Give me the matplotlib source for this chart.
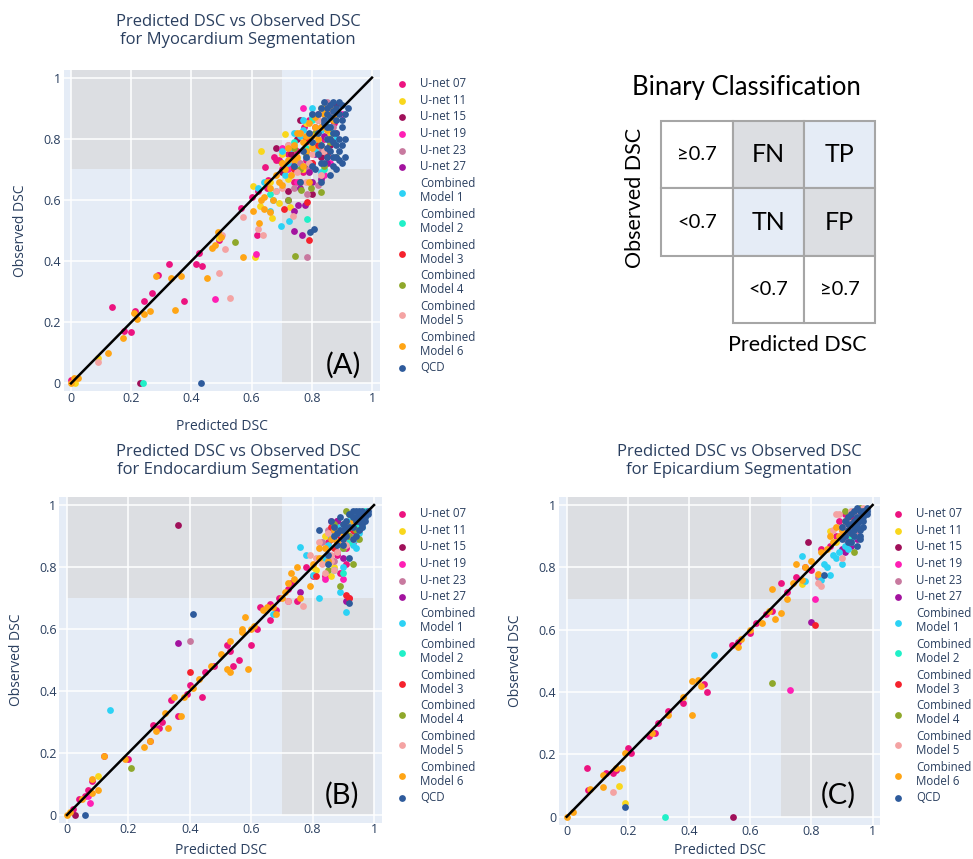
import matplotlib
matplotlib.use("Agg")
import matplotlib.pyplot as plt
from matplotlib.patches import Rectangle

# ---- series names / colours ----
series_names = ["U-net 07", "U-net 11", "U-net 15", "U-net 19", "U-net 23", "U-net 27",
                "Combined\nModel 1", "Combined\nModel 2", "Combined\nModel 3",
                "Combined\nModel 4", "Combined\nModel 5", "Combined\nModel 6", "QCD"]
series_colors = ["#ec1380", "#f9d71c", "#a0105a", "#ff1fb4", "#c8799f", "#a3139f",
                 "#2cd2f5", "#20f0c8", "#f5222d", "#8fa82b", "#f4a3a3", "#ffa515", "#2e5b9c"]

# ---- (A) Myocardium ----
myo_u07_x = [0.0, 0.137, 0.176, 0.198, 0.212, 0.242, 0.27, 0.29, 0.325, 0.375, 0.416, 0.425, 0.435, 0.491, 0.565, 0.618, 0.6, 0.62, 0.644, 0.655, 0.674, 0.68, 0.7, 0.72, 0.735, 0.75, 0.773, 0.78, 0.8, 0.82, 0.84, 0.86, 0.875, 0.74, 0.77, 0.81, 0.85, 0.88, 0.65, 0.69, 0.79, 0.83, 0.87, 0.78]
myo_u07_y = [0.01, 0.249, 0.171, 0.167, 0.237, 0.269, 0.294, 0.354, 0.389, 0.269, 0.389, 0.425, 0.385, 0.469, 0.573, 0.484, 0.61, 0.63, 0.709, 0.665, 0.741, 0.73, 0.7, 0.75, 0.71, 0.76, 0.839, 0.79, 0.72, 0.88, 0.8, 0.9, 0.85, 0.66, 0.69, 0.77, 0.74, 0.82, 0.64, 0.73, 0.86, 0.84, 0.79, 0.73]
myo_u11_x = [0.012, 0.09, 0.493, 0.61, 0.627, 0.604, 0.632, 0.668, 0.69, 0.71, 0.729, 0.66, 0.7, 0.75, 0.78, 0.8, 0.83, 0.86, 0.72, 0.77, 0.82]
myo_u11_y = [0.0, 0.082, 0.474, 0.412, 0.581, 0.647, 0.761, 0.542, 0.589, 0.815, 0.576, 0.66, 0.75, 0.73, 0.85, 0.78, 0.9, 0.82, 0.67, 0.7, 0.76]
myo_u15_x = [0.229, 0.68, 0.7, 0.73, 0.76, 0.79, 0.81, 0.84, 0.86, 0.88, 0.72, 0.8, 0.83, 0.75]
myo_u15_y = [0.0, 0.77, 0.69, 0.75, 0.86, 0.71, 0.82, 0.88, 0.78, 0.91, 0.63, 0.62, 0.74, 0.8]
myo_u19_x = [0.48, 0.614, 0.72, 0.75, 0.78, 0.81, 0.84, 0.87, 0.7, 0.86, 0.9, 0.77]
myo_u19_y = [0.276, 0.422, 0.7, 0.66, 0.76, 0.84, 0.68, 0.89, 0.77, 0.72, 0.88, 0.9]
myo_u23_x = [0.784, 0.784, 0.72, 0.76, 0.8, 0.83, 0.85, 0.87, 0.82, 0.74, 0.88, 0.79]
myo_u23_y = [0.414, 0.62, 0.78, 0.72, 0.88, 0.76, 0.92, 0.84, 0.65, 0.64, 0.8, 0.7]
myo_u27_x = [0.74, 0.768, 0.74, 0.754, 0.776, 0.72, 0.79, 0.81, 0.83, 0.85, 0.87, 0.8, 0.76, 0.84]
myo_u27_y = [0.498, 0.485, 0.565, 0.585, 0.585, 0.6, 0.69, 0.75, 0.67, 0.72, 0.86, 0.66, 0.64, 0.81]
myo_cm1_x = [0.66, 0.698, 0.725, 0.62, 0.64, 0.67, 0.7, 0.73, 0.76, 0.78, 0.8, 0.82, 0.84, 0.86, 0.75, 0.79, 0.83, 0.72, 0.81, 0.77, 0.88, 0.68, 0.71, 0.74, 0.8, 0.83, 0.85, 0.77, 0.79]
myo_cm1_y = [0.565, 0.516, 0.532, 0.64, 0.66, 0.6, 0.76, 0.77, 0.81, 0.74, 0.87, 0.79, 0.9, 0.84, 0.7, 0.8, 0.69, 0.72, 0.76, 0.83, 0.8, 0.63, 0.68, 0.82, 0.9, 0.83, 0.86, 0.86, 0.72]
myo_cm2_x = [0.24, 0.784, 0.66, 0.74, 0.8, 0.84, 0.87, 0.78]
myo_cm2_y = [0.0, 0.538, 0.62, 0.79, 0.86, 0.7, 0.82, 0.77]
myo_cm3_x = [0.791, 0.709, 0.784, 0.76, 0.8, 0.82, 0.85, 0.78, 0.74, 0.87]
myo_cm3_y = [0.469, 0.569, 0.594, 0.66, 0.72, 0.78, 0.75, 0.8, 0.7, 0.86]
myo_cm4_x = [0.546, 0.743, 0.72, 0.765, 0.798, 0.829, 0.7, 0.78, 0.81, 0.84, 0.86, 0.74, 0.88, 0.76, 0.82, 0.85]
myo_cm4_y = [0.461, 0.418, 0.6, 0.632, 0.638, 0.625, 0.72, 0.75, 0.82, 0.71, 0.79, 0.77, 0.74, 0.7, 0.86, 0.84]
myo_cm5_x = [0.09, 0.493, 0.5, 0.51, 0.529, 0.571, 0.622, 0.638, 0.737, 0.7, 0.75, 0.78, 0.8, 0.82, 0.85, 0.72, 0.76, 0.83, 0.68, 0.87, 0.79, 0.84, 0.86]
myo_cm5_y = [0.071, 0.362, 0.485, 0.44, 0.28, 0.544, 0.504, 0.484, 0.547, 0.64, 0.69, 0.66, 0.75, 0.86, 0.8, 0.78, 0.82, 0.68, 0.63, 0.88, 0.72, 0.76, 0.9]
myo_cm6_x = [0.0, 0.01, 0.023, 0.124, 0.174, 0.209, 0.218, 0.242, 0.262, 0.281, 0.331, 0.345, 0.364, 0.452, 0.469, 0.48, 0.488, 0.497, 0.572, 0.604, 0.624, 0.63, 0.64, 0.65, 0.66, 0.67, 0.68, 0.69, 0.7, 0.71, 0.72, 0.73, 0.74, 0.75, 0.76, 0.77, 0.78, 0.79, 0.8, 0.81, 0.82, 0.83, 0.84, 0.85, 0.86, 0.87, 0.66, 0.7, 0.74, 0.8, 0.64, 0.72, 0.75, 0.78, 0.81, 0.84, 0.77, 0.83, 0.86, 0.79, 0.88]
myo_cm6_y = [0.0, 0.016, 0.019, 0.098, 0.147, 0.229, 0.21, 0.226, 0.237, 0.351, 0.344, 0.24, 0.351, 0.346, 0.442, 0.453, 0.496, 0.48, 0.412, 0.563, 0.526, 0.6, 0.61, 0.66, 0.64, 0.6, 0.68, 0.66, 0.72, 0.7, 0.77, 0.68, 0.78, 0.74, 0.82, 0.79, 0.76, 0.85, 0.81, 0.87, 0.8, 0.84, 0.88, 0.83, 0.9, 0.86, 0.56, 0.65, 0.73, 0.77, 0.57, 0.73, 0.82, 0.81, 0.84, 0.9, 0.71, 0.78, 0.8, 0.66, 0.88]
myo_qcd_x = [0.432, 0.795, 0.808, 0.74, 0.76, 0.78, 0.8, 0.82, 0.83, 0.84, 0.85, 0.86, 0.87, 0.88, 0.89, 0.9, 0.91, 0.82, 0.84, 0.86, 0.88, 0.9, 0.85, 0.87, 0.89, 0.83, 0.81, 0.86, 0.88, 0.84, 0.87, 0.89, 0.91, 0.79, 0.77, 0.8, 0.85, 0.9, 0.88, 0.86, 0.83, 0.85, 0.87, 0.89, 0.86, 0.88, 0.9, 0.84, 0.82, 0.87, 0.89, 0.91, 0.85, 0.83, 0.88, 0.86, 0.9, 0.8, 0.92, 0.87, 0.85]
myo_qcd_y = [0.0, 0.494, 0.504, 0.71, 0.66, 0.74, 0.71, 0.75, 0.9, 0.92, 0.88, 0.91, 0.92, 0.9, 0.92, 0.91, 0.88, 0.82, 0.85, 0.87, 0.86, 0.84, 0.8, 0.82, 0.8, 0.78, 0.7, 0.76, 0.78, 0.72, 0.74, 0.73, 0.74, 0.82, 0.76, 0.88, 0.84, 0.78, 0.7, 0.68, 0.66, 0.9, 0.89, 0.88, 0.84, 0.82, 0.86, 0.86, 0.88, 0.79, 0.76, 0.8, 0.77, 0.72, 0.74, 0.8, 0.72, 0.79, 0.9, 0.71, 0.74]

# ---- (B) Endocardium ----
endo_u07_x = [0.02, 0.04, 0.06, 0.07, 0.08, 0.12, 0.2, 0.27, 0.28, 0.3, 0.31, 0.34, 0.36, 0.39, 0.4, 0.44, 0.45, 0.48, 0.52, 0.53, 0.54, 0.56, 0.6, 0.62, 0.63, 0.66, 0.66, 0.68, 0.69, 0.72, 0.73, 0.75, 0.78, 0.8, 0.84, 0.86, 0.88, 0.9, 0.92, 0.94, 0.96, 0.93, 0.91, 0.95, 0.89, 0.85, 0.88, 0.91, 0.94]
endo_u07_y = [0.02, 0.05, 0.06, 0.08, 0.11, 0.19, 0.18, 0.24, 0.29, 0.28, 0.3, 0.37, 0.32, 0.39, 0.42, 0.38, 0.46, 0.48, 0.55, 0.53, 0.48, 0.5, 0.55, 0.6, 0.67, 0.63, 0.68, 0.66, 0.7, 0.73, 0.75, 0.69, 0.8, 0.77, 0.77, 0.92, 0.84, 0.9, 0.7, 0.95, 0.97, 0.88, 0.81, 0.92, 0.78, 0.88, 0.95, 0.86, 0.9]
endo_u11_x = [0.1, 0.8, 0.84, 0.86, 0.88, 0.9, 0.92, 0.94, 0.96, 0.83, 0.87, 0.91, 0.95, 0.81]
endo_u11_y = [0.125, 0.8, 0.9, 0.77, 0.92, 0.86, 0.94, 0.89, 0.97, 0.83, 0.8, 0.91, 0.95, 0.79]
endo_u15_x = [0.025, 0.36, 0.86, 0.9, 0.93, 0.95, 0.88, 0.92]
endo_u15_y = [0.0, 0.935, 0.92, 0.87, 0.96, 0.93, 0.95, 0.9]
endo_u19_x = [0.075, 0.07, 0.72, 0.84, 0.88, 0.9, 0.92, 0.94, 0.86, 0.96]
endo_u19_y = [0.04, 0.06, 0.69, 0.76, 0.85, 0.76, 0.88, 0.91, 0.95, 0.96]
endo_u23_x = [0.4, 0.83, 0.87, 0.9, 0.93, 0.95, 0.85]
endo_u23_y = [0.56, 0.88, 0.82, 0.94, 0.9, 0.96, 0.92]
endo_u27_x = [0.36, 0.76, 0.91, 0.86, 0.9, 0.93, 0.95, 0.88]
endo_u27_y = [0.555, 0.72, 0.69, 0.89, 0.83, 0.92, 0.95, 0.95]
endo_cm1_x = [0.14, 0.76, 0.78, 0.82, 0.91, 0.8, 0.84, 0.86, 0.89, 0.9, 0.93, 0.95, 0.97, 0.88, 0.92, 0.67, 0.94, 0.85, 0.87, 0.9, 0.94, 0.96]
endo_cm1_y = [0.34, 0.865, 0.84, 0.7, 0.655, 0.775, 0.83, 0.9, 0.72, 0.8, 0.87, 0.91, 0.96, 0.93, 0.95, 0.65, 0.86, 0.87, 0.79, 0.86, 0.89, 0.93]
endo_cm2_x = [0.9, 0.92, 0.94, 0.96, 0.88, 0.93, 0.97]
endo_cm2_y = [0.78, 0.88, 0.93, 0.95, 0.91, 0.97, 0.98]
endo_cm3_x = [0.4, 0.81, 0.86, 0.89, 0.91, 0.92, 0.94, 0.87, 0.93]
endo_cm3_y = [0.46, 0.77, 0.93, 0.9, 0.71, 0.7, 0.95, 0.86, 0.92]
endo_cm4_x = [0.21, 0.85, 0.87, 0.9, 0.92, 0.93, 0.95, 0.89, 0.94, 0.91, 0.88, 0.92]
endo_cm4_y = [0.15, 0.79, 0.94, 0.86, 0.97, 0.81, 0.89, 0.74, 0.92, 0.98, 0.88, 0.9]
endo_cm5_x = [0.72, 0.77, 0.79, 0.83, 0.84, 0.86, 0.88, 0.9, 0.92, 0.94, 0.85, 0.87, 0.96, 0.82, 0.81, 0.86, 0.89, 0.91, 0.93]
endo_cm5_y = [0.69, 0.675, 0.84, 0.81, 0.78, 0.82, 0.85, 0.88, 0.93, 0.96, 0.91, 0.79, 0.97, 0.88, 0.83, 0.84, 0.91, 0.87, 0.89]
endo_cm6_x = [0.0, 0.01, 0.05, 0.08, 0.08, 0.1, 0.12, 0.19, 0.25, 0.27, 0.29, 0.32, 0.33, 0.35, 0.37, 0.38, 0.41, 0.43, 0.47, 0.5, 0.52, 0.53, 0.53, 0.57, 0.58, 0.59, 0.6, 0.61, 0.64, 0.67, 0.68, 0.7, 0.71, 0.73, 0.74, 0.75, 0.76, 0.79, 0.8, 0.82, 0.84, 0.86, 0.88, 0.9, 0.65, 0.72, 0.57, 0.82, 0.85, 0.87, 0.91, 0.93]
endo_cm6_y = [0.0, 0.01, 0.05, 0.115, 0.07, 0.08, 0.19, 0.18, 0.22, 0.24, 0.27, 0.33, 0.28, 0.38, 0.32, 0.38, 0.41, 0.44, 0.48, 0.52, 0.47, 0.46, 0.56, 0.6, 0.64, 0.47, 0.6, 0.61, 0.66, 0.67, 0.65, 0.7, 0.72, 0.78, 0.76, 0.8, 0.7, 0.74, 0.81, 0.83, 0.86, 0.89, 0.88, 0.91, 0.67, 0.75, 0.59, 0.86, 0.82, 0.92, 0.94, 0.95]
endo_qcd_x = [0.06, 0.41, 0.92, 0.82, 0.85, 0.87, 0.89, 0.9, 0.91, 0.92, 0.93, 0.94, 0.95, 0.96, 0.97, 0.96, 0.95, 0.94, 0.93, 0.92, 0.9, 0.88, 0.97, 0.98, 0.86, 0.91, 0.94, 0.96, 0.89, 0.9, 0.91, 0.93, 0.95, 0.96, 0.97, 0.94, 0.92, 0.88, 0.87, 0.95, 0.93, 0.96, 0.98, 0.9, 0.85]
endo_qcd_y = [0.0, 0.65, 0.685, 0.92, 0.81, 0.9, 0.92, 0.87, 0.95, 0.97, 0.93, 0.98, 0.97, 0.98, 0.97, 0.94, 0.92, 0.9, 0.89, 0.83, 0.94, 0.87, 0.95, 0.98, 0.95, 0.93, 0.96, 0.96, 0.96, 0.92, 0.9, 0.96, 0.95, 0.93, 0.96, 0.95, 0.93, 0.91, 0.93, 0.98, 0.98, 0.97, 0.97, 0.89, 0.84]

# ---- (C) Epicardium ----
epi_u07_x = [0.065, 0.07, 0.13, 0.15, 0.16, 0.2, 0.21, 0.27, 0.29, 0.3, 0.33, 0.38, 0.45, 0.46, 0.54, 0.56, 0.6, 0.62, 0.65, 0.67, 0.7, 0.72, 0.75, 0.78, 0.8, 0.83, 0.86, 0.88, 0.9, 0.92, 0.94, 0.96, 0.89, 0.91, 0.93, 0.95]
epi_u07_y = [0.155, 0.085, 0.14, 0.14, 0.15, 0.22, 0.205, 0.26, 0.27, 0.3, 0.34, 0.365, 0.425, 0.4, 0.55, 0.56, 0.59, 0.62, 0.65, 0.66, 0.75, 0.72, 0.77, 0.8, 0.79, 0.86, 0.87, 0.9, 0.93, 0.95, 0.97, 0.96, 0.95, 0.97, 0.96, 0.98]
epi_u11_x = [0.19, 0.17, 0.86, 0.77, 0.88, 0.92, 0.95, 0.97]
epi_u11_y = [0.045, 0.1, 0.915, 0.745, 0.88, 0.92, 0.96, 0.98]
epi_u15_x = [0.545, 0.79, 0.92, 0.95]
epi_u15_y = [0.0, 0.88, 0.9, 0.93]
epi_u19_x = [0.73, 0.81, 0.93, 0.96, 0.9]
epi_u19_y = [0.405, 0.7, 0.94, 0.97, 0.92]
epi_u23_x = [0.82, 0.93, 0.95, 0.91]
epi_u23_y = [0.77, 0.97, 0.91, 0.89]
epi_u27_x = [0.8, 0.93, 0.91, 0.95, 0.94, 0.92, 0.9]
epi_u27_y = [0.625, 0.87, 0.85, 0.89, 0.96, 0.94, 0.86]
epi_cm1_x = [0.48, 0.77, 0.78, 0.84, 0.86, 0.87, 0.88, 0.9, 0.91, 0.92, 0.94, 0.85, 0.83, 0.89, 0.93, 0.95]
epi_cm1_y = [0.52, 0.835, 0.755, 0.81, 0.775, 0.84, 0.83, 0.81, 0.87, 0.86, 0.9, 0.8, 0.76, 0.85, 0.88, 0.93]
epi_cm2_x = [0.32, 0.93, 0.96]
epi_cm2_y = [0.0, 0.9, 0.96]
epi_cm3_x = [0.81, 0.93, 0.95]
epi_cm3_y = [0.615, 0.95, 0.98]
epi_cm4_x = [0.67, 0.91, 0.93, 0.94, 0.96]
epi_cm4_y = [0.43, 0.98, 0.91, 0.85, 0.99]
epi_cm5_x = [0.15, 0.82, 0.83, 0.89, 0.92, 0.94, 0.97, 0.9, 0.88, 0.91, 0.93, 0.95, 0.87]
epi_cm5_y = [0.08, 0.75, 0.74, 0.97, 0.95, 0.92, 0.99, 0.83, 0.97, 0.93, 0.98, 0.97, 0.92]
epi_cm6_x = [0.0, 0.02, 0.075, 0.12, 0.12, 0.16, 0.18, 0.19, 0.28, 0.33, 0.38, 0.41, 0.43, 0.41, 0.44, 0.56, 0.57, 0.6, 0.64, 0.66, 0.67, 0.68, 0.7, 0.72, 0.74, 0.75, 0.78, 0.8, 0.83, 0.85, 0.87, 0.89, 0.9, 0.82, 0.77, 0.86, 0.91, 0.88]
epi_cm6_y = [0.0, 0.015, 0.09, 0.095, 0.135, 0.155, 0.155, 0.205, 0.27, 0.325, 0.385, 0.435, 0.44, 0.325, 0.42, 0.545, 0.57, 0.6, 0.62, 0.66, 0.73, 0.635, 0.655, 0.7, 0.75, 0.81, 0.8, 0.82, 0.85, 0.86, 0.88, 0.9, 0.92, 0.78, 0.76, 0.9, 0.95, 0.93]
epi_qcd_x = [0.19, 0.84, 0.9, 0.91, 0.92, 0.93, 0.94, 0.95, 0.96, 0.97, 0.98, 0.96, 0.95, 0.94, 0.93, 0.97, 0.98, 0.92, 0.96, 0.95, 0.97, 0.9, 0.92, 0.93, 0.94, 0.95, 0.96, 0.97, 0.94, 0.96, 0.98, 0.93, 0.95, 0.97, 0.91, 0.96, 0.92, 0.94]
epi_qcd_y = [0.03, 0.775, 0.89, 0.95, 0.92, 0.97, 0.93, 0.99, 0.96, 0.98, 0.97, 0.92, 0.87, 0.9, 0.94, 0.95, 0.99, 0.88, 0.89, 0.94, 0.93, 0.93, 0.96, 0.91, 0.98, 0.96, 0.95, 0.96, 0.92, 0.98, 0.98, 0.88, 0.93, 0.97, 0.9, 0.9, 0.94, 0.95]

# ---- binary classification table ----
table_title = "Binary Classification"
row_labels = ["≥0.7", "<0.7"]
col_labels = ["<0.7", "≥0.7"]
cell_labels = [["FN", "TP"], ["TN", "FP"]]

myo = [(myo_u07_x, myo_u07_y), (myo_u11_x, myo_u11_y), (myo_u15_x, myo_u15_y), (myo_u19_x, myo_u19_y),
       (myo_u23_x, myo_u23_y), (myo_u27_x, myo_u27_y), (myo_cm1_x, myo_cm1_y), (myo_cm2_x, myo_cm2_y),
       (myo_cm3_x, myo_cm3_y), (myo_cm4_x, myo_cm4_y), (myo_cm5_x, myo_cm5_y), (myo_cm6_x, myo_cm6_y),
       (myo_qcd_x, myo_qcd_y)]
endo = [(endo_u07_x, endo_u07_y), (endo_u11_x, endo_u11_y), (endo_u15_x, endo_u15_y), (endo_u19_x, endo_u19_y),
        (endo_u23_x, endo_u23_y), (endo_u27_x, endo_u27_y), (endo_cm1_x, endo_cm1_y), (endo_cm2_x, endo_cm2_y),
        (endo_cm3_x, endo_cm3_y), (endo_cm4_x, endo_cm4_y), (endo_cm5_x, endo_cm5_y), (endo_cm6_x, endo_cm6_y),
        (endo_qcd_x, endo_qcd_y)]
epi = [(epi_u07_x, epi_u07_y), (epi_u11_x, epi_u11_y), (epi_u15_x, epi_u15_y), (epi_u19_x, epi_u19_y),
       (epi_u23_x, epi_u23_y), (epi_u27_x, epi_u27_y), (epi_cm1_x, epi_cm1_y), (epi_cm2_x, epi_cm2_y),
       (epi_cm3_x, epi_cm3_y), (epi_cm4_x, epi_cm4_y), (epi_cm5_x, epi_cm5_y), (epi_cm6_x, epi_cm6_y),
       (epi_qcd_x, epi_qcd_y)]

W, H = 973, 859
TXT = "#2a3f5f"
PLOT_BG = "#e5ecf6"
SHADE = "#dcdee2"
PLOTLY_FONT = ["Open Sans", "DejaVu Sans"]
CAL_FONT = ["Lato", "DejaVu Sans"]

fig = plt.figure(figsize=(W / 100, H / 100), dpi=100)
fig.patch.set_facecolor("white")


def fx(px):
    return px / W


def fy(py):
    return 1 - py / H


def scatter_panel(data, box, title, letter, title_x, title_y, letter_xy, leg_xy, xpad):
    left, top, right, bottom = box
    ax = fig.add_axes([fx(left), fy(bottom), (right - left) / W, (bottom - top) / H])
    ax.set_facecolor(PLOT_BG)
    ax.set_xlim(-0.025, 1.025)
    ax.set_ylim(-0.025, 1.025)
    ax.add_patch(Rectangle((0, 0.7), 0.7, 0.35, facecolor=SHADE, lw=0, zorder=0.1))
    ax.add_patch(Rectangle((0.7, 0.0), 0.3, 0.7, facecolor=SHADE, lw=0, zorder=0.1))
    ax.set_axisbelow(True)
    ax.grid(True, color="white", lw=1.1)
    ticks = [0, 0.2, 0.4, 0.6, 0.8, 1]
    labels = ["0", "0.2", "0.4", "0.6", "0.8", "1"]
    ax.set_xticks(ticks, labels)
    ax.set_yticks(ticks, labels)
    ax.tick_params(length=0, labelsize=9, labelcolor=TXT)
    ax.tick_params(axis="x", pad=0.5)
    ax.tick_params(axis="y", pad=2)
    for lbl in ax.get_xticklabels() + ax.get_yticklabels():
        lbl.set_family(PLOTLY_FONT)
    for s in ax.spines.values():
        s.set_visible(False)

    handles = []
    for (xs, ys), name, col in zip(data, series_names, series_colors):
        h = ax.scatter(xs, ys, s=24, color=col, label=name, zorder=2, linewidths=0)
        handles.append(h)
    ax.plot([0, 1], [0, 1], color="black", lw=1.8, zorder=3)

    ax.set_xlabel("Predicted DSC", fontsize=10, color=TXT, family=PLOTLY_FONT, labelpad=xpad)
    ax.set_ylabel("Observed DSC", fontsize=10, color=TXT, family=PLOTLY_FONT, labelpad=11)

    fig.text(fx(title_x), fy(title_y), title, ha="center", va="center", fontsize=12,
             color=TXT, family=PLOTLY_FONT, linespacing=1.15)
    fig.text(fx(letter_xy[0]), fy(letter_xy[1]), letter, ha="center", va="center",
             fontsize=21, color="black", family=CAL_FONT)

    leg = ax.legend(handles=handles, loc="upper left", bbox_to_anchor=(fx(leg_xy[0]), fy(leg_xy[1])),
                    bbox_transform=fig.transFigure, frameon=False,
                    borderpad=0, borderaxespad=0, handlelength=1.0, handletextpad=1.07,
                    labelspacing=0.32, prop={"family": PLOTLY_FONT, "size": 8.3})
    for t in leg.get_texts():
        t.set_color(TXT)
        t.set_linespacing(1.1)
    return ax


scatter_panel(myo, (63.5, 70, 379.5, 391),
              "Predicted DSC vs Observed DSC\nfor Myocardium Segmentation", "(A)",
              238, 31, (343, 365), (396.5, 77), 10)
scatter_panel(endo, (59.3, 497.3, 381.7, 822.7),
              "Predicted DSC vs Observed DSC\nfor Endocardium Segmentation", "(B)",
              238, 461, (342, 795), (396.5, 507), 4.5)
scatter_panel(epi, (559, 497.2, 880.3, 824.5),
              "Predicted DSC vs Observed DSC\nfor Epicardium Segmentation", "(C)",
              739, 461, (838, 795), (892.5, 507), 3.5)

# ---- binary classification diagram ----
tab = fig.add_axes([0, 0, 1, 1], zorder=-1)
tab.set_xlim(0, W)
tab.set_ylim(H, 0)
tab.axis("off")
col_edges = [661, 733, 804, 875]
row_edges = [121, 188, 256, 323]
cell_fill = [["#dcdee2", "#e5ecf6"], ["#e5ecf6", "#dcdee2"]]
edge = "#a6a6a6"

for r in range(2):
    x0, x1 = col_edges[0], col_edges[1]
    y0, y1 = row_edges[r], row_edges[r + 1]
    tab.add_patch(Rectangle((x0, y0), x1 - x0, y1 - y0, facecolor="white", edgecolor=edge, lw=1.5))
    tab.text((x0 + x1) / 2, (y0 + y1) / 2, row_labels[r], ha="center", va="center",
             fontsize=14.5, family=CAL_FONT)
    for c in range(2):
        x0, x1 = col_edges[c + 1], col_edges[c + 2]
        tab.add_patch(Rectangle((x0, y0), x1 - x0, y1 - y0, facecolor=cell_fill[r][c],
                                edgecolor=edge, lw=1.5))
        tab.text((x0 + x1) / 2, (y0 + y1) / 2, cell_labels[r][c], ha="center", va="center",
                 fontsize=18, family=CAL_FONT)
for c in range(2):
    x0, x1 = col_edges[c + 1], col_edges[c + 2]
    y0, y1 = row_edges[2], row_edges[3]
    tab.add_patch(Rectangle((x0, y0), x1 - x0, y1 - y0, facecolor="white", edgecolor=edge, lw=1.5))
    tab.text((x0 + x1) / 2, (y0 + y1) / 2, col_labels[c], ha="center", va="center",
             fontsize=14.5, family=CAL_FONT)

tab.text(746, 88, table_title, ha="center", va="center", fontsize=18.5, family=CAL_FONT)
tab.text(635, 198, "Observed DSC", ha="center", va="center", rotation=90, fontsize=15.5, family=CAL_FONT)
tab.text(797, 345, "Predicted DSC", ha="center", va="center", fontsize=15.5, family=CAL_FONT)

fig.savefig("out.png", dpi=100)
